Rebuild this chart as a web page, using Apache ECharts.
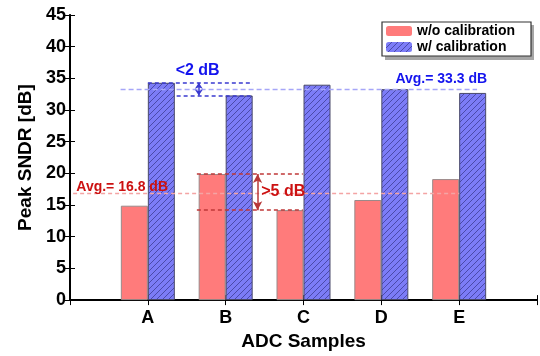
<!DOCTYPE html>
<html>
<head>
<meta charset="utf-8">
<script src="https://cdn.jsdelivr.net/npm/echarts@6/dist/echarts.min.js"></script>
<style>
html,body{margin:0;padding:0;background:#fff;}
#chart{width:540px;height:356px;}
</style>
</head>
<body>
<div id="chart"></div>
<script>
// ---- data ----
var categories = ['A', 'B', 'C', 'D', 'E'];
var categoryPositions = [1, 2, 3, 4, 5];
var woCalibration = [14.9, 19.9, 14.2, 15.8, 19.1];
var wCalibration = [34.3, 32.3, 34.0, 33.3, 32.7];
var avgWo = 16.8;
var avgW = 33.3;
var yTicks = [0, 5, 10, 15, 20, 25, 30, 35, 40, 45];
var seriesNames = ['w/o calibration', 'w/ calibration'];

function pairs(vals) {
  return vals.map(function (v, i) { return [categoryPositions[i], v]; });
}

// hatch pattern for the calibrated series
var pc = document.createElement('canvas');
pc.width = 6; pc.height = 6;
var g = pc.getContext('2d');
g.fillStyle = '#7c7cf7';
g.fillRect(0, 0, 6, 6);
g.strokeStyle = 'rgba(35,35,110,0.7)';
g.lineWidth = 0.8;
g.beginPath();
g.moveTo(0, 6); g.lineTo(6, 0);
g.moveTo(-1, 1); g.lineTo(1, -1);
g.moveTo(5, 7); g.lineTo(7, 5);
g.stroke();

var font = "'Liberation Sans'";
var chart = echarts.init(document.getElementById('chart'), null, {renderer: 'canvas'});

var blueTxt = '#1414ee';
var redTxt = '#cc1111';
var legendText = {fontFamily: font, fontWeight: 'bold', fontSize: 14, color: '#000'};

chart.setOption({
  animation: false,
  textStyle: {fontFamily: font, fontWeight: 'bold'},
  grid: {left: 70, right: 3, top: 15, bottom: 50.5},
  graphic: [{
    type: 'rect', left: 385, top: 25, z: 0, silent: true,
    shape: {width: 149, height: 35},
    style: {fill: 'rgba(0,0,0,0.35)'}
  }],
  legend: {
    data: seriesNames.map(function (n) { return {name: n, textStyle: legendText}; }),
    left: 382, top: 22, z: 5,
    orient: 'vertical',
    itemWidth: 26, itemHeight: 10, itemGap: 2,
    padding: [2, 16, 2, 4],
    borderColor: '#333', borderWidth: 1.2,
    backgroundColor: '#fff',
    textStyle: legendText,
    itemStyle: {borderWidth: 0}
  },
  xAxis: [{
    type: 'value', min: 0, max: 6, interval: 1, position: 'bottom',
    name: 'ADC Samples', nameLocation: 'middle', nameGap: 31,
    nameTextStyle: {fontFamily: font, fontWeight: 'bold', fontSize: 19, color: '#000'},
    axisLine: {show: true, lineStyle: {color: '#000', width: 2}},
    axisTick: {show: true, inside: true, length: 5, lineStyle: {color: '#000'}},
    axisLabel: {fontFamily: font, fontWeight: 'bold', fontSize: 18, color: '#000', margin: 9,
      formatter: function (v) { var i = categoryPositions.indexOf(v); return i >= 0 ? categories[i] : ''; }},
    splitLine: {show: false}
  }, {
    type: 'value', min: 0, max: 6, interval: 1, position: 'top',
    axisLine: {show: true, lineStyle: {color: '#000', width: 1.5}},
    axisTick: {show: true, inside: true, length: 5, lineStyle: {color: '#000'}},
    axisLabel: {show: false}, splitLine: {show: false}
  }],
  yAxis: [{
    type: 'value', min: 0, max: 45, interval: 5, position: 'left',
    name: 'Peak SNDR [dB]', nameLocation: 'middle', nameGap: 35,
    nameTextStyle: {fontFamily: font, fontWeight: 'bold', fontSize: 19, color: '#000'},
    axisLine: {show: true, lineStyle: {color: '#000', width: 2}},
    axisTick: {show: true, inside: true, length: 5, lineStyle: {color: '#000'}},
    axisLabel: {fontFamily: font, fontWeight: 'bold', fontSize: 18, color: '#000', margin: 4,
      formatter: function (v) { return yTicks.indexOf(v) >= 0 ? String(v) : ''; }},
    splitLine: {show: false}
  }, {
    type: 'value', min: 0, max: 45, interval: 5, position: 'right',
    axisLine: {show: true, lineStyle: {color: '#000', width: 1.5}},
    axisTick: {show: true, inside: true, length: 5, lineStyle: {color: '#000'}},
    axisLabel: {show: false}, splitLine: {show: false}
  }],
  series: [{
    name: seriesNames[0], type: 'bar', xAxisIndex: 0, yAxisIndex: 0,
    barWidth: 27, barGap: '0%',
    data: pairs(woCalibration),
    itemStyle: {color: '#ff7b7b', borderColor: '#9a8a8a', borderWidth: 1}
  }, {
    name: seriesNames[1], type: 'bar', xAxisIndex: 0, yAxisIndex: 0,
    barWidth: 27, barGap: '0%',
    data: pairs(wCalibration),
    itemStyle: {color: {image: pc, repeat: 'repeat'}, borderColor: '#4a4a6a', borderWidth: 1}
  }, {
    name: 'annotations', type: 'scatter', xAxisIndex: 0, yAxisIndex: 0,
    data: [], silent: true, z: 5,
    markLine: {
      silent: true, symbol: 'none', z: 5, animation: false,
      label: {show: false},
      data: [
        [{coord: [0.04, avgWo], lineStyle: {color: '#f4a4a4', type: [4, 3], width: 1.4}}, {coord: [5.0, avgWo]}],
        [{coord: [1.63, woCalibration[1]], lineStyle: {color: '#c03838', type: [4, 3], width: 1.6}}, {coord: [2.99, woCalibration[1]]}],
        [{coord: [1.63, woCalibration[2]], lineStyle: {color: '#c03838', type: [4, 3], width: 1.6}}, {coord: [2.99, woCalibration[2]]}],
        [{coord: [2.41, woCalibration[1]], symbol: 'arrow', symbolSize: [7, 9], lineStyle: {color: '#b83838', type: 'solid', width: 1.5}}, {coord: [2.41, woCalibration[2]], symbol: 'arrow', symbolSize: [7, 9]}],
        [{coord: [0.65, avgW], lineStyle: {color: '#a6a6f8', type: [5, 3], width: 1.4}}, {coord: [5.23, avgW]}],
        [{coord: [1.0, wCalibration[0]], lineStyle: {color: '#3a3ad0', type: [4, 3], width: 1.6}}, {coord: [2.35, wCalibration[0]]}],
        [{coord: [1.37, wCalibration[1]], lineStyle: {color: '#3a3ad0', type: [4, 3], width: 1.6}}, {coord: [2.35, wCalibration[1]]}],
        [{coord: [1.655, wCalibration[0]], symbol: 'arrow', symbolSize: [6, 6], lineStyle: {color: '#3a3ad0', type: 'solid', width: 1.5}}, {coord: [1.655, wCalibration[1]], symbol: 'arrow', symbolSize: [6, 6]}]
      ]
    },
    markPoint: {
      silent: true, symbol: 'circle', symbolSize: 0,
      label: {show: true, position: 'inside', fontFamily: font, fontWeight: 'bold'},
      data: [
        {coord: [0.67, 17.9], value: 'Avg.= 16.8 dB', label: {fontSize: 14, color: redTxt, formatter: 'Avg.= 16.8 dB'}},
        {coord: [2.74, 17.2], value: '>5 dB', label: {fontSize: 16, color: redTxt, formatter: '>5 dB'}},
        {coord: [1.64, 36.3], value: '<2 dB', label: {fontSize: 16, color: blueTxt, formatter: '<2 dB'}},
        {coord: [4.77, 34.9], value: 'Avg.= 33.3 dB', label: {fontSize: 14, color: blueTxt, formatter: 'Avg.= 33.3 dB'}}
      ]
    }
  }]
});
</script>
</body>
</html>
